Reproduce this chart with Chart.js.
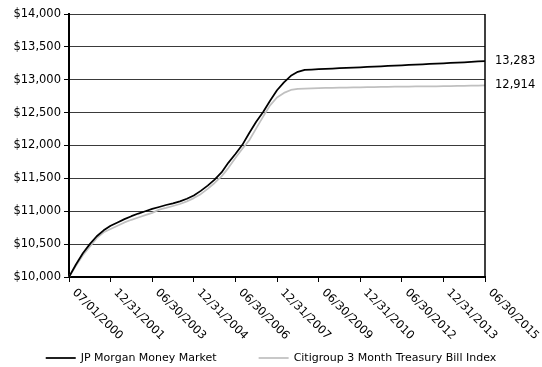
<!DOCTYPE html>
<html>
<head>
<meta charset="utf-8">
<script src="https://cdn.jsdelivr.net/npm/chart.js@4.4.1/dist/chart.umd.min.js"></script>
<style>
  html, body { margin: 0; padding: 0; background: #fff; }
  #wrap { width: 542px; height: 367px; }
</style>
</head>
<body>
<div id="wrap"><canvas id="c" width="542" height="367"></canvas></div>
<script>
// Quarter-end dates of the $10,000 growth comparison
const quarters = [
  '07/01/2000', '09/30/2000', '12/31/2000',
  '03/31/2001', '06/30/2001', '09/30/2001', '12/31/2001',
  '03/31/2002', '06/30/2002', '09/30/2002', '12/31/2002',
  '03/31/2003', '06/30/2003', '09/30/2003', '12/31/2003',
  '03/31/2004', '06/30/2004', '09/30/2004', '12/31/2004',
  '03/31/2005', '06/30/2005', '09/30/2005', '12/31/2005',
  '03/31/2006', '06/30/2006', '09/30/2006', '12/31/2006',
  '03/31/2007', '06/30/2007', '09/30/2007', '12/31/2007',
  '03/31/2008', '06/30/2008', '09/30/2008', '12/31/2008',
  '03/31/2009', '06/30/2009', '09/30/2009', '12/31/2009',
  '03/31/2010', '06/30/2010', '09/30/2010', '12/31/2010',
  '03/31/2011', '06/30/2011', '09/30/2011', '12/31/2011',
  '03/31/2012', '06/30/2012', '09/30/2012', '12/31/2012',
  '03/31/2013', '06/30/2013', '09/30/2013', '12/31/2013',
  '03/31/2014', '06/30/2014', '09/30/2014', '12/31/2014',
  '03/31/2015', '06/30/2015'
];

// Growth of $10,000 — JP Morgan Money Market
const jpMorgan = [
  10000, 10190, 10360, 10500, 10620, 10710, 10780, 10830, 10880, 10925,
  10965, 11000, 11035, 11065, 11095, 11120, 11150, 11190, 11240, 11310,
  11390, 11480, 11590, 11740, 11870, 12010, 12190, 12360, 12510, 12680,
  12840, 12960, 13060, 13120, 13150, 13155, 13160, 13165, 13170, 13175,
  13180, 13185, 13190, 13195, 13200, 13205, 13210, 13215, 13220, 13225,
  13230, 13235, 13240, 13245, 13250, 13255, 13260, 13266, 13272, 13278,
  13283
];

// Growth of $10,000 — Citigroup 3 Month Treasury Bill Index
const citigroup = [
  10000, 10170, 10330, 10460, 10590, 10680, 10730, 10780, 10830, 10870,
  10905, 10940, 10975, 11025, 11050, 11080, 11110, 11150, 11200, 11260,
  11340, 11430, 11530, 11660, 11810, 11950, 12080, 12260, 12440, 12610,
  12730, 12800, 12845, 12860, 12866, 12869, 12872, 12875, 12877, 12879,
  12881, 12883, 12885, 12887, 12889, 12891, 12893, 12895, 12896, 12897,
  12898, 12899, 12900, 12901, 12902, 12904, 12906, 12908, 12910, 12912,
  12914
];

const seriesNames = ['JP Morgan Money Market', 'Citigroup 3 Month Treasury Bill Index'];
const seriesColors = ['#000000', '#c0c0c0'];
const labelEvery = 6;          // one date label every six quarters
const yMin = 10000, yMax = 14000, yStep = 500;

const FONT_FAMILY = '"DejaVu Sans", Verdana, sans-serif';
const NUM_SIZE = 11.5;         // axis numbers, dates and end values
const TEXT_SIZE = 11;          // legend text
const NUM_FONT = NUM_SIZE + 'px ' + FONT_FAMILY;
const TEXT_FONT = TEXT_SIZE + 'px ' + FONT_FAMILY;

// Right-hand border of the plot area
const frame = {
  id: 'frame',
  afterDatasetsDraw(chart) {
    const { ctx, chartArea: a } = chart;
    ctx.save();
    ctx.strokeStyle = '#000';
    ctx.lineWidth = 1.5;
    ctx.beginPath();
    ctx.moveTo(a.right, a.top);
    ctx.lineTo(a.right, a.bottom);
    ctx.stroke();
    ctx.restore();
  }
};

// Slanted date labels hanging down-right from each major tick
const slantedDates = {
  id: 'slantedDates',
  afterDraw(chart) {
    const { ctx } = chart;
    const xs = chart.scales.x;
    ctx.save();
    ctx.font = NUM_FONT;
    ctx.fillStyle = '#000';
    ctx.textAlign = 'left';
    ctx.textBaseline = 'middle';
    chart.data.labels.forEach((lab, i) => {
      if (i % labelEvery !== 0) return;
      const px = xs.getPixelForTick(i);
      ctx.save();
      ctx.translate(px + 5, xs.top + 14);
      ctx.rotate(Math.PI / 4);
      ctx.fillText(lab, 0, 0);
      ctx.restore();
    });
    ctx.restore();
  }
};

// Ending value written beside the right edge of each line
const endValues = {
  id: 'endValues',
  afterDraw(chart) {
    const { ctx, chartArea: a } = chart;
    const ys = chart.scales.y;
    ctx.save();
    ctx.font = NUM_FONT;
    ctx.fillStyle = '#000';
    ctx.textAlign = 'left';
    ctx.textBaseline = 'middle';
    chart.data.datasets.forEach(ds => {
      const v = ds.data[ds.data.length - 1];
      ctx.fillText(v.toLocaleString('en-US'), a.right + 10, ys.getPixelForValue(v));
    });
    ctx.restore();
  }
};

// Line-sample legend centred along the bottom
const lineLegend = {
  id: 'lineLegend',
  afterDraw(chart) {
    const { ctx } = chart;
    const sample = 30, gap = 5, between = 42;
    ctx.save();
    ctx.font = TEXT_FONT;
    const items = chart.data.datasets.map(ds => ({
      text: ds.label, color: ds.borderColor, w: ctx.measureText(ds.label).width
    }));
    const total = items.reduce((s, it) => s + sample + gap + it.w, 0) + between * (items.length - 1);
    let x = (chart.width - total) / 2;
    const y = chart.height - 9;
    items.forEach(it => {
      ctx.strokeStyle = it.color;
      ctx.lineWidth = 1.75;
      ctx.beginPath();
      ctx.moveTo(x, y);
      ctx.lineTo(x + sample, y);
      ctx.stroke();
      ctx.fillStyle = '#000';
      ctx.textAlign = 'left';
      ctx.textBaseline = 'middle';
      ctx.fillText(it.text, x + sample + gap, y);
      x += sample + gap + it.w + between;
    });
    ctx.restore();
  }
};

new Chart(document.getElementById('c'), {
  type: 'line',
  data: {
    labels: quarters,
    datasets: [
      { label: seriesNames[0], data: jpMorgan, borderColor: seriesColors[0], borderWidth: 1.75,
        pointRadius: 0, tension: 0, borderJoinStyle: 'round', fill: false },
      { label: seriesNames[1], data: citigroup, borderColor: seriesColors[1], borderWidth: 1.75,
        pointRadius: 0, tension: 0, borderJoinStyle: 'round', fill: false }
    ]
  },
  options: {
    responsive: false,
    animation: false,
    events: [],
    layout: { padding: { left: 0, top: 14, right: 57, bottom: 0 } },
    plugins: { legend: { display: false }, tooltip: { enabled: false }, title: { display: false } },
    scales: {
      x: {
        type: 'category',
        offset: false,
        border: { display: true, color: '#000', width: 2 },
        grid: {
          drawOnChartArea: false,
          drawTicks: true,
          tickLength: 5,
          lineWidth: 1,
          color: ctx => (ctx.index % labelEvery === 0 ? '#000' : 'rgba(0,0,0,0)')
        },
        ticks: { display: false, autoSkip: false },
        afterFit(s) { s.height = 90; }
      },
      y: {
        min: yMin,
        max: yMax,
        border: { display: true, color: '#000', width: 2 },
        grid: { color: '#3a3a3a', lineWidth: 1, tickLength: 5, tickColor: '#000' },
        ticks: {
          stepSize: yStep,
          padding: 3,
          color: '#000',
          font: { family: FONT_FAMILY, size: NUM_SIZE },
          callback: v => '$' + Number(v).toLocaleString('en-US')
        },
        afterFit(s) { s.width = 69; }
      }
    }
  },
  plugins: [frame, slantedDates, endValues, lineLegend]
});
</script>
</body>
</html>
